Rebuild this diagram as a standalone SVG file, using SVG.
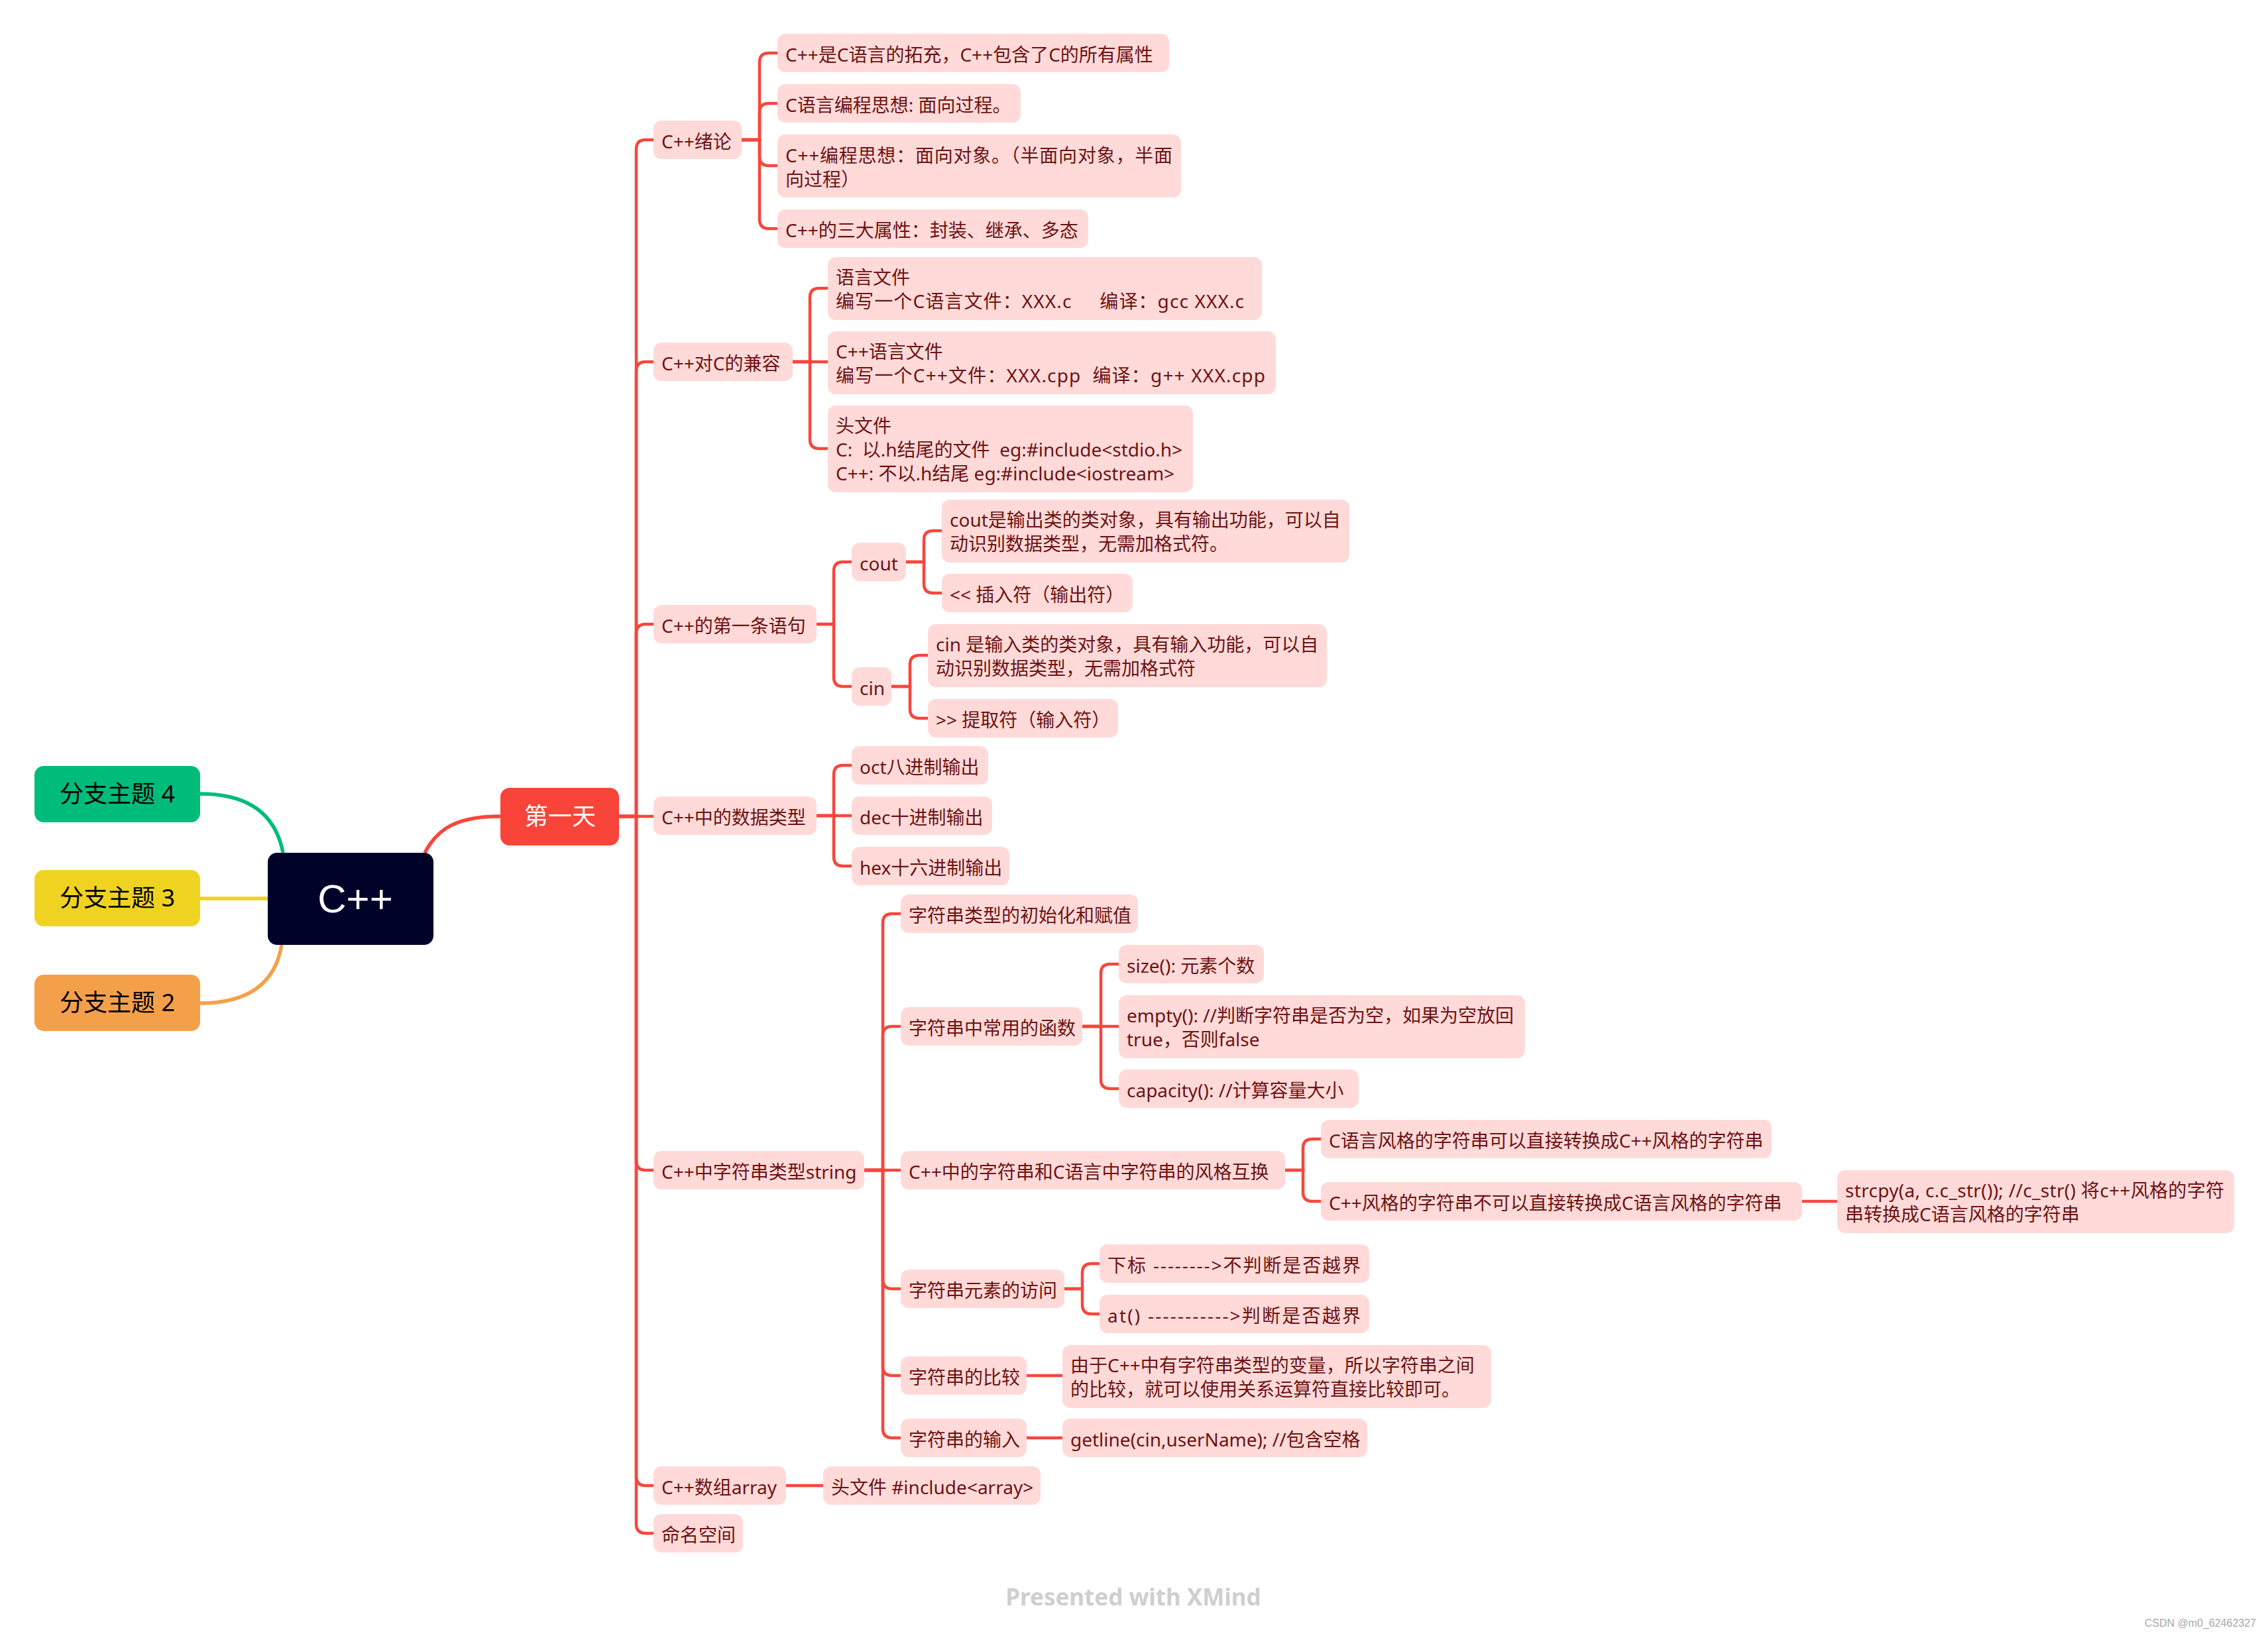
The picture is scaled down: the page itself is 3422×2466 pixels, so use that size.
<svg xmlns="http://www.w3.org/2000/svg" width="3422" height="2466" viewBox="0 0 3422 2466">
<style>
.n rect{fill:#FFDAD9}
.n text{font-family:"Noto Sans","Noto Sans CJK SC",sans-serif;font-size:28px;fill:#6E1212;white-space:pre}
.c path{fill:none;stroke:#F8463C;stroke-width:4.5}
.b text{font-family:"Noto Sans","Noto Sans CJK SC",sans-serif;font-size:36px;white-space:pre}
</style>
<rect width="3422" height="2466" fill="#FFFFFF"/>

<g id="connectors" class="c">
  <path d="M302 1198 Q410 1198 427 1287" style="stroke:#00BC7A;stroke-width:5.5"/>
  <path d="M302 1356 H404" style="stroke:#F0D320;stroke-width:5.5"/>
  <path d="M302 1514 Q410 1514 425 1426" style="stroke:#F4A04B;stroke-width:5.5"/>
  <path d="M641 1287 C660 1250 690 1232 755 1232" style="stroke-width:5.5"/>
  <path d="M934 1232 H960 V225 Q960 211 974 211 H986"/>
  <path d="M934 1232 H960 V560 Q960 546 974 546 H986"/>
  <path d="M934 1232 H960 V956 Q960 942 974 942 H986"/>
  <path d="M934 1232 H986"/>
  <path d="M934 1232 H960 V1752 Q960 1766 974 1766 H986"/>
  <path d="M934 1232 H960 V2228 Q960 2242 974 2242 H986"/>
  <path d="M934 1232 H960 V2300 Q960 2314 974 2314 H986"/>
  <path d="M1119 211 H1146 V94 Q1146 80 1160 80 H1173"/>
  <path d="M1119 211 H1146 V170 Q1146 156 1160 156 H1173"/>
  <path d="M1119 211 H1146 V236 Q1146 250 1160 250 H1173"/>
  <path d="M1119 211 H1146 V331 Q1146 345 1160 345 H1173"/>
  <path d="M1196 546 H1222 V449 Q1222 435 1236 435 H1249"/>
  <path d="M1196 546 H1249"/>
  <path d="M1196 546 H1222 V663 Q1222 677 1236 677 H1249"/>
  <path d="M1232 942 H1258 V862 Q1258 848 1272 848 H1285"/>
  <path d="M1232 942 H1258 V1022 Q1258 1036 1272 1036 H1285"/>
  <path d="M1367 848 H1394 V815 Q1394 801 1408 801 H1421"/>
  <path d="M1367 848 H1394 V881 Q1394 895 1408 895 H1421"/>
  <path d="M1345 1036 H1373 V1003 Q1373 989 1387 989 H1400"/>
  <path d="M1345 1036 H1373 V1070 Q1373 1084 1387 1084 H1400"/>
  <path d="M1232 1231 H1258 V1169 Q1258 1155 1272 1155 H1285"/>
  <path d="M1232 1231 H1285"/>
  <path d="M1232 1231 H1258 V1293 Q1258 1307 1272 1307 H1285"/>
  <path d="M1304 1766 H1332 V1393 Q1332 1379 1346 1379 H1359"/>
  <path d="M1304 1766 H1332 V1563 Q1332 1549 1346 1549 H1359"/>
  <path d="M1304 1766 H1359"/>
  <path d="M1304 1766 H1332 V1931 Q1332 1945 1346 1945 H1359"/>
  <path d="M1304 1766 H1332 V2062 Q1332 2076 1346 2076 H1359"/>
  <path d="M1304 1766 H1332 V2156 Q1332 2170 1346 2170 H1359"/>
  <path d="M1633 1549 H1661 V1469 Q1661 1455 1675 1455 H1688"/>
  <path d="M1633 1549 H1688"/>
  <path d="M1633 1549 H1661 V1629 Q1661 1643 1675 1643 H1688"/>
  <path d="M1939 1766 H1966 V1733 Q1966 1719 1980 1719 H1993"/>
  <path d="M1939 1766 H1966 V1799 Q1966 1813 1980 1813 H1993"/>
  <path d="M2719 1813 H2772"/>
  <path d="M1606 1945 H1633 V1921 Q1633 1907 1647 1907 H1659"/>
  <path d="M1606 1945 H1633 V1969 Q1633 1983 1647 1983 H1659"/>
  <path d="M1549 2076 H1603"/>
  <path d="M1549 2170 H1603"/>
  <path d="M1186 2242 H1242"/>
</g>

<g id="topic4" class="b"><rect x="52" y="1156" width="250" height="85" rx="14" fill="#00BC7A"/><text x="177" y="1211" text-anchor="middle" fill="#000">分支主题 4</text></g>
<g id="topic3" class="b"><rect x="52" y="1313" width="250" height="85" rx="14" fill="#F0D320"/><text x="177" y="1368" text-anchor="middle" fill="#000">分支主题 3</text></g>
<g id="topic2" class="b"><rect x="52" y="1471" width="250" height="85" rx="14" fill="#F4A04B"/><text x="177" y="1526" text-anchor="middle" fill="#000">分支主题 2</text></g>
<g id="root"><rect x="404" y="1287" width="250" height="139" rx="14" fill="#00022A"/><text x="536" y="1377" text-anchor="middle" font-family="Liberation Sans, sans-serif" font-size="60" fill="#FFFFFF">C++</text></g>
<g id="day1" class="b"><rect x="755" y="1189" width="179" height="87" rx="14" fill="#F9443A"/><text x="845" y="1245" text-anchor="middle" fill="#FFFFFF">第一天</text></g>

<g id="n-intro" class="n"><rect x="986" y="182" width="133" height="58" rx="12"/><text x="998" y="224">C++绪论</text></g>
<g id="n-intro-1" class="n"><rect x="1173" y="51" width="591" height="58" rx="12"/><text x="1185" y="93">C++是C语言的拓充，C++包含了C的所有属性</text></g>
<g id="n-intro-2" class="n"><rect x="1173" y="127" width="367" height="58" rx="12"/><text x="1185" y="169">C语言编程思想: 面向过程。</text></g>
<g id="n-intro-3" class="n"><rect x="1173" y="203" width="609" height="95" rx="12"/><text x="1185" y="245" textLength="584" lengthAdjust="spacing">C++编程思想：面向对象。（半面向对象，半面</text><text x="1185" y="281">向过程）</text></g>
<g id="n-intro-4" class="n"><rect x="1173" y="316" width="469" height="58" rx="12"/><text x="1185" y="358">C++的三大属性：封装、继承、多态</text></g>

<g id="n-compat" class="n"><rect x="986" y="517" width="210" height="58" rx="12"/><text x="998" y="559">C++对C的兼容</text></g>
<g id="n-compat-1" class="n"><rect x="1249" y="388" width="655" height="95" rx="12"/><text x="1261" y="429">语言文件</text><text x="1261" y="465" textLength="616" lengthAdjust="spacing">编写一个C语言文件：XXX.c     编译：gcc XXX.c</text></g>
<g id="n-compat-2" class="n"><rect x="1249" y="500" width="676" height="95" rx="12"/><text x="1261" y="541">C++语言文件</text><text x="1261" y="577" textLength="648" lengthAdjust="spacing">编写一个C++文件：XXX.cpp  编译：g++ XXX.cpp</text></g>
<g id="n-compat-3" class="n"><rect x="1249" y="612" width="551" height="131" rx="12"/><text x="1261" y="653">头文件</text><text x="1261" y="689">C:  以.h结尾的文件  eg:#include&lt;stdio.h&gt;</text><text x="1261" y="725">C++: 不以.h结尾 eg:#include&lt;iostream&gt;</text></g>

<g id="n-first" class="n"><rect x="986" y="913" width="246" height="58" rx="12"/><text x="998" y="955">C++的第一条语句</text></g>
<g id="n-cout" class="n"><rect x="1285" y="819" width="82" height="58" rx="12"/><text x="1297" y="861">cout</text></g>
<g id="n-cout-1" class="n"><rect x="1421" y="754" width="615" height="95" rx="12"/><text x="1433" y="795">cout是输出类的类对象，具有输出功能，可以自</text><text x="1433" y="831">动识别数据类型，无需加格式符。</text></g>
<g id="n-cout-2" class="n"><rect x="1421" y="866" width="288" height="58" rx="12"/><text x="1433" y="908">&lt;&lt; 插入符（输出符）</text></g>
<g id="n-cin" class="n"><rect x="1285" y="1007" width="60" height="58" rx="12"/><text x="1297" y="1049">cin</text></g>
<g id="n-cin-1" class="n"><rect x="1400" y="942" width="602" height="95" rx="12"/><text x="1412" y="983">cin 是输入类的类对象，具有输入功能，可以自</text><text x="1412" y="1019">动识别数据类型，无需加格式符</text></g>
<g id="n-cin-2" class="n"><rect x="1400" y="1055" width="287" height="58" rx="12"/><text x="1412" y="1097">&gt;&gt; 提取符（输入符）</text></g>

<g id="n-types" class="n"><rect x="986" y="1202" width="246" height="58" rx="12"/><text x="998" y="1244">C++中的数据类型</text></g>
<g id="n-oct" class="n"><rect x="1285" y="1126" width="206" height="58" rx="12"/><text x="1297" y="1168">oct八进制输出</text></g>
<g id="n-dec" class="n"><rect x="1285" y="1202" width="212" height="58" rx="12"/><text x="1297" y="1244">dec十进制输出</text></g>
<g id="n-hex" class="n"><rect x="1285" y="1278" width="238" height="58" rx="12"/><text x="1297" y="1320">hex十六进制输出</text></g>

<g id="n-string" class="n"><rect x="986" y="1737" width="318" height="58" rx="12"/><text x="998" y="1779">C++中字符串类型string</text></g>
<g id="n-str-init" class="n"><rect x="1359" y="1350" width="358" height="58" rx="12"/><text x="1371" y="1392">字符串类型的初始化和赋值</text></g>
<g id="n-str-func" class="n"><rect x="1359" y="1520" width="274" height="58" rx="12"/><text x="1371" y="1562">字符串中常用的函数</text></g>
<g id="n-size" class="n"><rect x="1688" y="1426" width="219" height="58" rx="12"/><text x="1700" y="1468">size(): 元素个数</text></g>
<g id="n-empty" class="n"><rect x="1688" y="1502" width="613" height="95" rx="12"/><text x="1700" y="1543">empty(): //判断字符串是否为空，如果为空放回</text><text x="1700" y="1579">true，否则false</text></g>
<g id="n-capacity" class="n"><rect x="1688" y="1614" width="362" height="58" rx="12"/><text x="1700" y="1656">capacity(): //计算容量大小</text></g>
<g id="n-style" class="n"><rect x="1359" y="1737" width="580" height="58" rx="12"/><text x="1371" y="1779">C++中的字符串和C语言中字符串的风格互换</text></g>
<g id="n-style-1" class="n"><rect x="1993" y="1690" width="680" height="58" rx="12"/><text x="2005" y="1732">C语言风格的字符串可以直接转换成C++风格的字符串</text></g>
<g id="n-style-2" class="n"><rect x="1993" y="1784" width="726" height="58" rx="12"/><text x="2005" y="1826">C++风格的字符串不可以直接转换成C语言风格的字符串</text></g>
<g id="n-strcpy" class="n"><rect x="2772" y="1766" width="599" height="95" rx="12"/><text x="2784" y="1807" textLength="572" lengthAdjust="spacing">strcpy(a, c.c_str()); //c_str() 将c++风格的字符</text><text x="2784" y="1843">串转换成C语言风格的字符串</text></g>
<g id="n-access" class="n"><rect x="1359" y="1916" width="247" height="58" rx="12"/><text x="1371" y="1958">字符串元素的访问</text></g>
<g id="n-index" class="n"><rect x="1659" y="1878" width="407" height="58" rx="12"/><text x="1671" y="1920" textLength="382" lengthAdjust="spacing">下标 --------&gt;不判断是否越界</text></g>
<g id="n-at" class="n"><rect x="1659" y="1954" width="407" height="58" rx="12"/><text x="1671" y="1996" textLength="382" lengthAdjust="spacing">at() -----------&gt;判断是否越界</text></g>
<g id="n-compare" class="n"><rect x="1359" y="2047" width="190" height="58" rx="12"/><text x="1371" y="2089">字符串的比较</text></g>
<g id="n-compare-1" class="n"><rect x="1603" y="2030" width="647" height="95" rx="12"/><text x="1615" y="2071">由于C++中有字符串类型的变量，所以字符串之间</text><text x="1615" y="2107">的比较，就可以使用关系运算符直接比较即可。</text></g>
<g id="n-input" class="n"><rect x="1359" y="2141" width="190" height="58" rx="12"/><text x="1371" y="2183">字符串的输入</text></g>
<g id="n-getline" class="n"><rect x="1603" y="2141" width="460" height="58" rx="12"/><text x="1615" y="2183">getline(cin,userName); //包含空格</text></g>

<g id="n-array" class="n"><rect x="986" y="2213" width="200" height="58" rx="12"/><text x="998" y="2255">C++数组array</text></g>
<g id="n-array-1" class="n"><rect x="1242" y="2213" width="328" height="58" rx="12"/><text x="1254" y="2255">头文件 #include&lt;array&gt;</text></g>
<g id="n-namespace" class="n"><rect x="986" y="2285" width="135" height="58" rx="12"/><text x="998" y="2327">命名空间</text></g>

<text x="1710" y="2423" text-anchor="middle" font-family="'Noto Sans', sans-serif" font-weight="bold" font-size="35" fill="#CFCFCF">Presented with XMind</text>
<text x="3404" y="2455" text-anchor="end" font-family="Liberation Sans, sans-serif" font-size="16" fill="#A8A8A8">CSDN @m0_62462327</text>
</svg>
